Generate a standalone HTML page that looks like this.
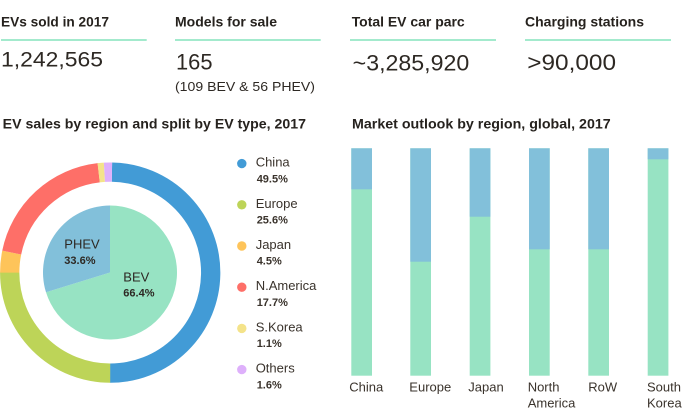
<!DOCTYPE html>
<html><head><meta charset="utf-8"><style>
html,body{margin:0;padding:0;background:#fff;}
svg{display:block;}
text{font-family:"Liberation Sans",Arial,sans-serif;fill:#2d2823;}
.h{font-weight:bold;font-size:14px;fill:#26221e;}
.n{font-size:22px;}
.lg{font-size:13px;fill:#3a332c;}
.pc{font-size:11px;font-weight:bold;fill:#3a332c;}
.bl{font-size:13px;fill:#3a332c;}
</style></head><body>
<svg width="700" height="420" viewBox="0 0 700 420" xmlns="http://www.w3.org/2000/svg">
<!-- KPI headers -->
<text class="h" x="1" y="26.7" textLength="108" lengthAdjust="spacingAndGlyphs">EVs sold in 2017</text>
<text class="h" x="175" y="26.7" textLength="102" lengthAdjust="spacingAndGlyphs">Models for sale</text>
<text class="h" x="351.7" y="26.7" textLength="113" lengthAdjust="spacingAndGlyphs">Total EV car parc</text>
<text class="h" x="525" y="26.7" textLength="119" lengthAdjust="spacingAndGlyphs">Charging stations</text>
<rect x="1" y="39" width="145.7" height="2" fill="#a3eacd"/>
<rect x="175" y="39" width="145.7" height="2" fill="#a3eacd"/>
<rect x="350" y="39" width="146" height="2" fill="#a3eacd"/>
<rect x="525" y="39" width="146" height="2" fill="#a3eacd"/>
<text class="n" x="1" y="66.7" style="font-size:21px" textLength="102" lengthAdjust="spacingAndGlyphs">1,242,565</text>
<text class="n" x="176" y="69.5" textLength="36.5" lengthAdjust="spacingAndGlyphs">165</text>
<text x="175" y="91" style="font-size:13px" textLength="140" lengthAdjust="spacingAndGlyphs">(109 BEV &amp; 56 PHEV)</text>
<text class="n" x="352.7" y="70.5" textLength="116.6" lengthAdjust="spacingAndGlyphs">~3,285,920</text>
<text class="n" x="527.3" y="70" textLength="88.7" lengthAdjust="spacingAndGlyphs">&gt;90,000</text>

<!-- Chart titles -->
<text class="h" x="2.7" y="128.3" textLength="303.3" lengthAdjust="spacingAndGlyphs">EV sales by region and split by EV type, 2017</text>
<text class="h" x="352" y="128.5" textLength="258.7" lengthAdjust="spacingAndGlyphs">Market outlook by region, global, 2017</text>

<!-- Donut ring -->
<g fill="none" stroke-width="19.3">
<circle cx="110.2" cy="272.6" r="100.5" stroke="#429bd6" stroke-dasharray="313.98 1000" transform="rotate(-89 110.2 272.6)"/>
<circle cx="110.2" cy="272.6" r="100.5" stroke="#bdd458" stroke-dasharray="157.87 1000" transform="rotate(90 110.2 272.6)"/>
<circle cx="110.2" cy="272.6" r="100.5" stroke="#fec45a" stroke-dasharray="20.17 1000" transform="rotate(180 110.2 272.6)"/>
<circle cx="110.2" cy="272.6" r="100.5" stroke="#fe6f68" stroke-dasharray="126.12 1000" transform="rotate(191.5 110.2 272.6)"/>
<circle cx="110.2" cy="272.6" r="100.5" stroke="#f4e38a" stroke-dasharray="5.79 1000" transform="rotate(263.4 110.2 272.6)"/>
<circle cx="110.2" cy="272.6" r="100.5" stroke="#deb0fb" stroke-dasharray="7.54 1000" transform="rotate(266.7 110.2 272.6)"/>
</g>
<!-- Inner pie -->
<path d="M110,272.5 L110,205.5 A67,67 0 1,1 46.0,292.3 Z" fill="#97e3c3"/>
<path d="M110,272.5 L46.0,292.3 A67,67 0 0,1 110,205.5 Z" fill="#82c0da"/>
<text x="64.3" y="248.7" style="font-size:13px;fill:#2d2823">PHEV</text>
<text class="pc" x="64.3" y="264" style="fill:#2d2823">33.6%</text>
<text x="123.3" y="281.7" style="font-size:13px;fill:#2d2823">BEV</text>
<text class="pc" x="123.3" y="296.7" style="fill:#2d2823">66.4%</text>

<!-- Legend -->
<circle cx="241.8" cy="163.6" r="4.7" fill="#429bd6"/>
<text class="lg" x="255.7" y="166.6">China</text>
<text class="pc" x="256.7" y="182.3">49.5%</text>
<circle cx="241.8" cy="204.8" r="4.7" fill="#bdd458"/>
<text class="lg" x="255.7" y="207.8">Europe</text>
<text class="pc" x="256.7" y="223.5">25.6%</text>
<circle cx="241.8" cy="246" r="4.7" fill="#fec45a"/>
<text class="lg" x="255.7" y="249">Japan</text>
<text class="pc" x="256.7" y="264.7">4.5%</text>
<circle cx="241.8" cy="287.2" r="4.7" fill="#fe6f68"/>
<text class="lg" x="255.7" y="290.2">N.America</text>
<text class="pc" x="256.7" y="305.9">17.7%</text>
<circle cx="241.8" cy="328.4" r="4.7" fill="#f4e38a"/>
<text class="lg" x="255.7" y="331.4">S.Korea</text>
<text class="pc" x="256.7" y="347.1">1.1%</text>
<circle cx="241.8" cy="369.6" r="4.7" fill="#deb0fb"/>
<text class="lg" x="255.7" y="372.6">Others</text>
<text class="pc" x="256.7" y="388.3">1.6%</text>

<!-- Bars -->
<g>
<rect x="351.3" y="148.3" width="20.7" height="227.4" fill="#97e3c3"/>
<rect x="351.3" y="148.3" width="20.7" height="41" fill="#82c0da"/>
<rect x="410.3" y="148.3" width="20.7" height="227.4" fill="#97e3c3"/>
<rect x="410.3" y="148.3" width="20.7" height="113.4" fill="#82c0da"/>
<rect x="469.7" y="148.3" width="20.7" height="227.4" fill="#97e3c3"/>
<rect x="469.7" y="148.3" width="20.7" height="68.4" fill="#82c0da"/>
<rect x="529" y="148.3" width="20.7" height="227.4" fill="#97e3c3"/>
<rect x="529" y="148.3" width="20.7" height="101" fill="#82c0da"/>
<rect x="588.3" y="148.3" width="20.7" height="227.4" fill="#97e3c3"/>
<rect x="588.3" y="148.3" width="20.7" height="101" fill="#82c0da"/>
<rect x="647.7" y="148.3" width="20.7" height="227.4" fill="#97e3c3"/>
<rect x="647.7" y="148.3" width="20.7" height="11" fill="#82c0da"/>
</g>
<text class="bl" x="349.3" y="391.7">China</text>
<text class="bl" x="409.3" y="391.7">Europe</text>
<text class="bl" x="468.3" y="391.7">Japan</text>
<text class="bl" x="527.7" y="391.7">North</text>
<text class="bl" x="527.7" y="407.7">America</text>
<text class="bl" x="588.3" y="391.7">RoW</text>
<text class="bl" x="647" y="391.7">South</text>
<text class="bl" x="647" y="407.7">Korea</text>
</svg>
</body></html>
